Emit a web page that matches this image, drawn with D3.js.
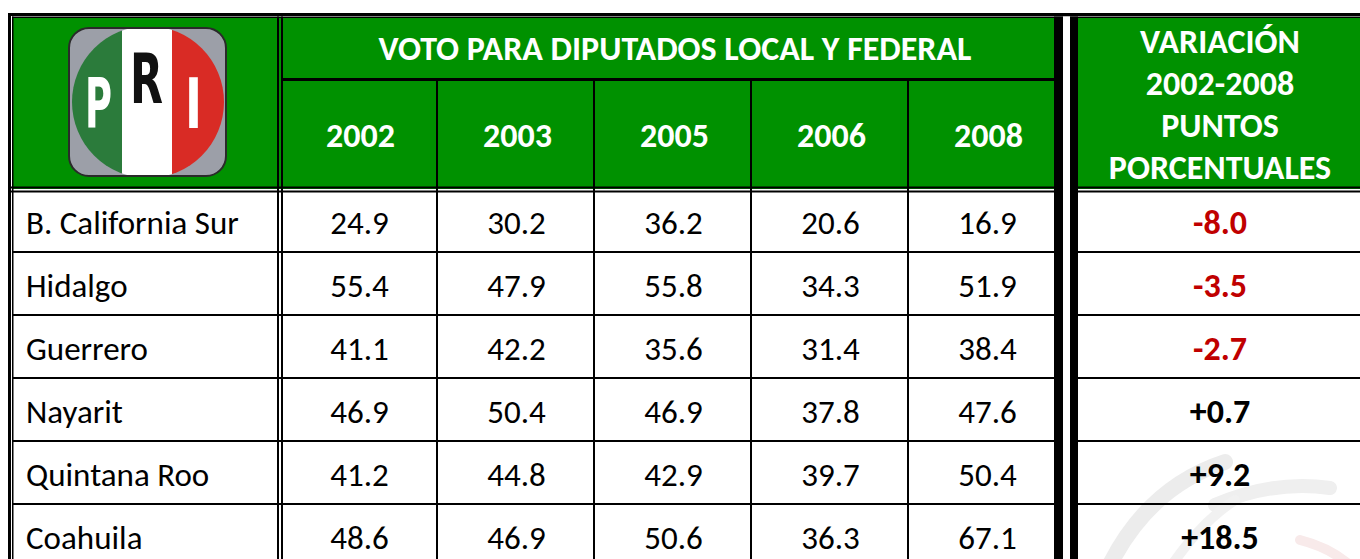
<!DOCTYPE html>
<html>
<head>
<meta charset="utf-8">
<script src="https://cdn.jsdelivr.net/npm/d3@7"></script>
<style>
  body { margin: 0; background: #fff; overflow: hidden; }
  text { font-family: Carlito, Calibri, Lato, sans-serif; }
</style>
</head>
<body>
<svg id="tabla" width="1360" height="559"></svg>
<script>
// datos de la tabla
const states = ["B. California Sur", "Hidalgo", "Guerrero", "Nayarit", "Quintana Roo", "Coahuila"];
const years = ["2002", "2003", "2005", "2006", "2008"];
const v2002 = [24.9, 55.4, 41.1, 46.9, 41.2, 48.6];
const v2003 = [30.2, 47.9, 42.2, 50.4, 44.8, 46.9];
const v2005 = [36.2, 55.8, 35.6, 46.9, 42.9, 50.6];
const v2006 = [20.6, 34.3, 31.4, 37.8, 39.7, 36.3];
const v2008 = [16.9, 51.9, 38.4, 47.6, 50.4, 67.1];
const variacion = [-8.0, -3.5, -2.7, 0.7, 9.2, 18.5];
const headerTitle = "VOTO PARA DIPUTADOS LOCAL Y FEDERAL";
const varHeader = ["VARIACIÓN", "2002-2008", "PUNTOS", "PORCENTUALES"];

const series = [v2002, v2003, v2005, v2006, v2008];

const svg = d3.select("#tabla");
const green = "#009100";
const fs = 33;   // texto normal
const fb = 34;   // texto en negrita

let x = d3.scaleBand().domain(years).range([280, 1065]);
let y = d3.scaleBand().domain(states).range([189, 567]);
const varX = 1220;

function hline(x1, x2, yy, w) {
  svg.append("rect").attr("x", x1).attr("y", yy).attr("width", x2 - x1).attr("height", w).attr("fill", "#000");
}
function vline(xx, y1, y2, w, c) {
  svg.append("rect").attr("x", xx).attr("y", y1).attr("width", w).attr("height", y2 - y1).attr("fill", c || "#000");
}

// fondo verde del encabezado
svg.append("rect").attr("x", 13).attr("y", 17).attr("width", 1360).attr("height", 172).attr("fill", green);

// marca de agua (abajo a la derecha)
const wm = svg.append("g").attr("fill", "none").attr("stroke-linecap", "round");
wm.append("path").attr("d", "M1105,575 C1130,520 1170,480 1225,462").attr("stroke", "#ececec").attr("stroke-width", 16);
wm.append("path").attr("d", "M1215,505 C1250,490 1290,482 1330,488").attr("stroke", "#efefef").attr("stroke-width", 14);
wm.append("path").attr("d", "M1165,575 C1185,545 1205,520 1235,500").attr("stroke", "#f1f1f1").attr("stroke-width", 10);
wm.append("path").attr("d", "M1300,540 C1320,545 1340,555 1355,570").attr("stroke", "#f8eaea").attr("stroke-width", 10);

// logo PRI
const logo = svg.append("g");
const defs = svg.append("defs");
defs.append("clipPath").attr("id", "logoClip")
  .append("rect").attr("x", 69).attr("y", 28).attr("width", 157).attr("height", 148).attr("rx", 20);
defs.append("clipPath").attr("id", "circClip")
  .append("circle").attr("cx", 148).attr("cy", 102).attr("r", 76);
logo.append("rect").attr("x", 69).attr("y", 28).attr("width", 157).attr("height", 148).attr("rx", 20)
  .attr("fill", "#9c9fa8");
const stripes = logo.append("g").attr("clip-path", "url(#logoClip)")
  .append("g").attr("clip-path", "url(#circClip)");
stripes.append("rect").attr("x", 60).attr("y", 20).attr("width", 62).attr("height", 170).attr("fill", "#2b7b3b");
stripes.append("rect").attr("x", 122).attr("y", 20).attr("width", 50).attr("height", 170).attr("fill", "#ffffff");
stripes.append("rect").attr("x", 172).attr("y", 20).attr("width", 60).attr("height", 170).attr("fill", "#d92b25");
logo.append("rect").attr("x", 69).attr("y", 28).attr("width", 157).attr("height", 148).attr("rx", 20)
  .attr("fill", "none").attr("stroke", "#2a2a2a").attr("stroke-width", 2);
const letters = [
  { t: "P", x: 85, y: 128, w: 27, c: "#ffffff" },
  { t: "R", x: 130, y: 103, w: 33, c: "#111111" },
  { t: "I", x: 185, y: 128, w: 17, c: "#ffffff" }
];
// letras estrechas: fuente pequeña estirada en vertical
logo.selectAll("text.let").data(letters).join("text")
  .attr("transform", d => `translate(${d.x},${d.y}) scale(1,1.95)`)
  .attr("textLength", d => d.w).attr("lengthAdjust", "spacingAndGlyphs")
  .style("font-family", "'DejaVu Sans', sans-serif").style("font-weight", "bold")
  .style("font-size", "36px").attr("fill", d => d.c)
  .text(d => d.t);

// líneas de la tabla
hline(8, 1360, 13, 3);
hline(12, 1360, 16.5, 1.5);
vline(8, 13, 559, 3);
vline(12, 16.5, 559, 1.5);
vline(277, 16.5, 559, 2);
vline(281, 16.5, 559, 2);
hline(281, 1054, 78, 3);
years.slice(1).forEach(yr => vline(x(yr) - 1, 80, 559, 2));
hline(8, 1360, 186.5, 2);
hline(8, 1360, 190.5, 2);
states.slice(1).forEach(s => hline(13, 1360, y(s) - 1, 2));
vline(1063, 16.5, 559, 7, "#fff");
vline(1054, 16.5, 559, 9);
vline(1070, 16.5, 559, 8);

// textos del encabezado
const capB = 0.35 * fb;
const capN = 0.35 * fs;
svg.append("text").attr("x", 675).attr("y", 48 + capB)
  .attr("text-anchor", "middle").attr("fill", "#fff").style("font-weight", "bold").style("font-size", fb + "px")
  .text(headerTitle);
svg.selectAll("text.year").data(years).join("text")
  .attr("x", d => x(d) + x.bandwidth() / 2 + 2).attr("y", 135 + capB)
  .attr("text-anchor", "middle").attr("fill", "#fff").style("font-weight", "bold").style("font-size", fb + "px")
  .text(d => d);
svg.selectAll("text.varh").data(varHeader).join("text")
  .attr("x", varX).attr("y", (d, i) => 41 + i * 42 + capB)
  .attr("text-anchor", "middle").attr("fill", "#fff").style("font-weight", "bold").style("font-size", fb + "px")
  .text(d => d);

// filas
const rowC = s => y(s) + y.bandwidth() / 2 + 2;
svg.selectAll("text.state").data(states).join("text")
  .attr("x", 26).attr("y", d => rowC(d) + capN)
  .attr("fill", "#000").style("font-size", fs + "px")
  .text(d => d);
series.forEach((vals, j) => {
  svg.selectAll("text.v" + j).data(vals).join("text")
    .attr("x", x(years[j]) + x.bandwidth() / 2 + 1).attr("y", (d, i) => rowC(states[i]) + capN)
    .attr("text-anchor", "middle").attr("fill", "#000").style("font-size", fs + "px")
    .text(d => d.toFixed(1));
});
svg.selectAll("text.var").data(variacion).join("text")
  .attr("x", varX).attr("y", (d, i) => rowC(states[i]) + capB)
  .attr("text-anchor", "middle").style("font-weight", "bold").style("font-size", fb + "px")
  .attr("fill", d => d < 0 ? "#c00000" : "#000")
  .text(d => (d > 0 ? "+" : "") + d.toFixed(1));
</script>
</body>
</html>
